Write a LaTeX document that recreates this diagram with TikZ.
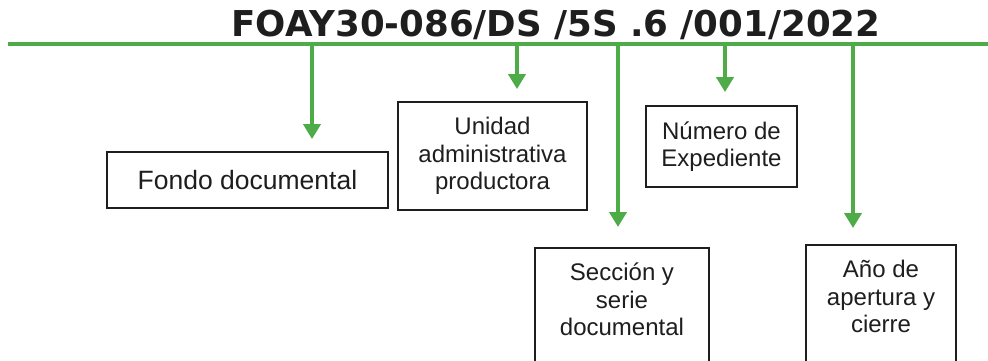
\documentclass[tikz,border=0pt]{standalone}
\usepackage{fontspec}
\setmainfont{Liberation Sans}
\newfontfamily\titlefont{DejaVu Sans}
\usetikzlibrary{arrows.meta}
\definecolor{grn}{RGB}{78,172,72}
\definecolor{ink}{RGB}{30,30,30}
\begin{document}
\begin{tikzpicture}[x=1pt,y=-1pt,
 box/.style={draw=ink, line width=1.8pt, inner sep=0pt, align=center, font=\fontsize{24}{27.5}\selectfont, text=ink},
 lbl/.style={align=center, font=\fontsize{24}{27.5}\selectfont, text=ink, inner sep=0pt},
 conn/.style={draw=grn, line width=4.5pt, -{Triangle[width=17pt,length=15pt]}},
]
\useasboundingbox (0,0) rectangle (988,361);
\clip (0,0) rectangle (988,361);
\fill[white] (0,0) rectangle (988,361);
\node[anchor=base, font=\titlefont\bfseries\fontsize{35.6}{40}\selectfont, text=ink] (title) at (556,37) {FOAY30-086/DS /5S .6 /001/2022};
\coordinate (L) at (8,44);
\coordinate (R) at (995,44);
\draw[grn, line width=4.5pt] (L) -- (R);
\node[box, minimum width=281pt, minimum height=56pt, font=\fontsize{26.5}{29}\selectfont] (b1) at (247.5,180) {Fondo documental};
\node[box, minimum width=189pt, minimum height=108pt] (b2) at (492.5,156) {Unidad\\administrativa\\productora};
\node[box, minimum width=151pt, minimum height=81pt] (b4) at (721.5,146.5) {Número de\\Expediente};
\node[box, minimum width=174pt, minimum height=150pt, anchor=north, label={[lbl,anchor=north,yshift=-16pt]north:{Sección y\\serie\\documental}}] (b3) at (622,247) {};
\node[box, minimum width=150pt, minimum height=150pt, anchor=north, label={[lbl,anchor=north,yshift=-16pt]north:{Año de\\apertura y\\cierre}}] (b5) at (881,244) {};
\coordinate (s1) at (312,44);
\coordinate (s2) at (517,44);
\coordinate (s3) at (618,44);
\coordinate (s4) at (725,44);
\coordinate (s5) at (853,44);
\draw[conn, shorten >=12pt] (s1) -- (s1 |- b1.north);
\draw[conn, shorten >=12pt] (s2) -- (s2 |- b2.north);
\draw[conn, shorten >=20pt] (s3) -- (s3 |- b3.north);
\draw[conn, shorten >=13pt] (s4) -- (s4 |- b4.north);
\draw[conn, shorten >=16pt] (s5) -- (s5 |- b5.north);
\end{tikzpicture}
\end{document}
